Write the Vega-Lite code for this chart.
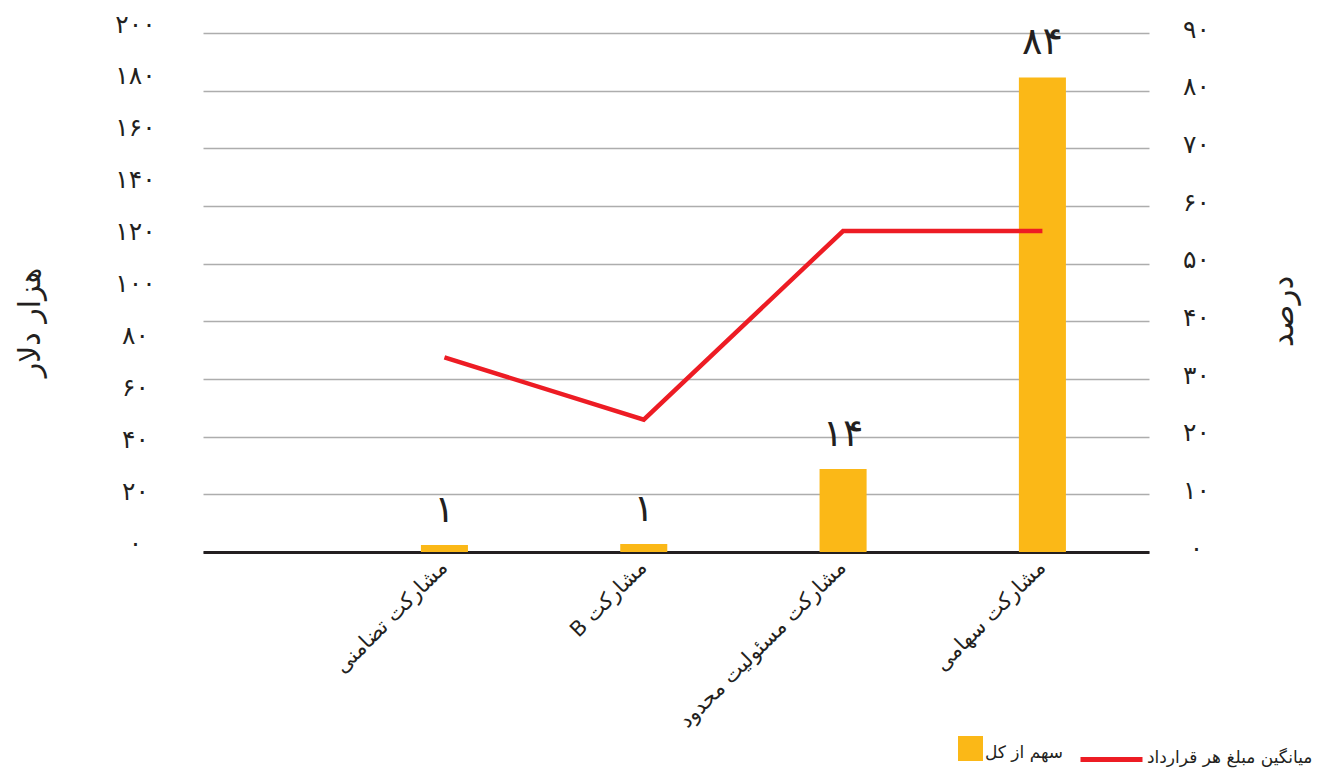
{
  "$schema": "https://vega.github.io/schema/vega-lite/v6.json",
  "width": 946,
  "height": 519,
  "autosize": {"type": "none"},
  "padding": {"left": 203, "top": 33, "right": 177, "bottom": 216},
  "config": {
    "view": {"stroke": null},
    "font": "DejaVu Sans",
    "locale": {
      "number": {
        "decimal": ".",
        "thousands": ",",
        "grouping": [3],
        "currency": ["", ""],
        "numerals": ["۰", "۱", "۲", "۳", "۴", "۵", "۶", "۷", "۸", "۹"]
      }
    },
    "axis": {"labelColor": "#231f20", "titleColor": "#231f20"},
    "legend": {"labelColor": "#231f20"}
  },
  "data": {
    "values": [
      {"type": "مشارکت تضامنی", "share": 1.2, "label": "۱", "avg": 75},
      {"type": "‫مشارکت B‬", "share": 1.4, "label": "۱", "avg": 51},
      {"type": "مشارکت مسئولیت محدود", "share": 14.4, "label": "۱۴", "avg": 123.7},
      {"type": "مشارکت سهامی", "share": 82.3, "label": "۸۴", "avg": 123.7}
    ]
  },
  "encoding": {
    "x": {
      "field": "type",
      "type": "nominal",
      "sort": null,
      "scale": {"paddingInner": 0.764, "paddingOuter": 0.755, "align": 0.724},
      "axis": {
        "title": null,
        "labelAngle": -45,
        "labelAlign": "right",
        "labelBaseline": "middle",
        "labelFontSize": 21,
        "labelPadding": 12,
        "ticks": false,
        "domainColor": "#231f20",
        "domainWidth": 3,
        "labelLimit": 400,
        "grid": false
      }
    }
  },
  "layer": [
    {
      "encoding": {
        "y": {
          "field": "share",
          "type": "quantitative",
          "scale": {"domain": [0, 90]},
          "axis": {
            "orient": "right",
            "title": "درصد",
            "titleAngle": -90,
            "titleFontSize": 31,
            "titleFontWeight": "normal",
            "titleX": 134,
            "titleY": 278,
            "titleAlign": "center",
            "titleBaseline": "middle",
            "values": [0, 10, 20, 30, 40, 50, 60, 70, 80, 90],
            "grid": true,
            "gridColor": "#adadad",
            "gridWidth": 1.5,
            "domain": false,
            "ticks": false,
            "tickSize": 0,
            "labelPadding": 47,
            "labelAlign": "center",
            "labelFontSize": 25,
            "labelOffset": -4,
            "labelOverlap": false
          }
        }
      },
      "layer": [
        {
          "mark": {"type": "bar"},
          "encoding": {
            "fill": {
              "datum": "سهم از کل",
              "type": "nominal",
              "scale": {"range": ["#fbb817"]},
              "legend": {
                "orient": "none",
                "legendX": 755,
                "legendY": 703,
                "title": null,
                "symbolType": "square",
                "symbolSize": 625,
                "symbolStrokeWidth": 0,
                "labelFontSize": 17,
                "labelOffset": 2,
                "labelLimit": 300,
                "padding": 0,
                "encode": {
                  "symbols": {"update": {"fill": {"value": "#ffc800"}}},
                  "labels": {"update": {"dy": {"value": 4}}}
                }
              }
            }
          }
        },
        {
          "mark": {"type": "text", "baseline": "alphabetic", "dy": -23, "fontSize": 38, "color": "#231f20"},
          "encoding": {
            "text": {"field": "label"}
          }
        }
      ]
    },
    {
      "mark": {"type": "line", "strokeWidth": 4.5},
      "encoding": {
        "y": {
          "field": "avg",
          "type": "quantitative",
          "scale": {"domain": [0, 200]},
          "axis": {
            "orient": "left",
            "title": "هزار دلار",
            "titleAngle": -90,
            "titleFontSize": 30,
            "titleFontWeight": "normal",
            "titleX": -173,
            "titleY": 289,
            "titleAlign": "center",
            "titleBaseline": "middle",
            "values": [0, 20, 40, 60, 80, 100, 120, 140, 160, 180, 200],
            "grid": false,
            "domain": false,
            "ticks": false,
            "tickSize": 0,
            "labelPadding": 68,
            "labelAlign": "center",
            "labelFontSize": 25,
            "labelOffset": -9,
            "labelOverlap": false
          }
        },
        "stroke": {
          "datum": "میانگین مبلغ هر قرارداد",
          "type": "nominal",
          "scale": {"range": ["#ed1c24"]},
          "legend": {
            "orient": "none",
            "legendX": 875,
            "legendY": 693,
            "title": null,
            "symbolType": "stroke",
            "symbolSize": 3844,
            "symbolStrokeWidth": 5,
            "labelFontSize": 17,
            "labelOffset": 2,
            "labelLimit": 300,
            "padding": 0,
            "encode": {
              "labels": {"update": {"dy": {"value": -2}}}
            }
          }
        }
      }
    }
  ],
  "resolve": {"scale": {"y": "independent"}}
}
